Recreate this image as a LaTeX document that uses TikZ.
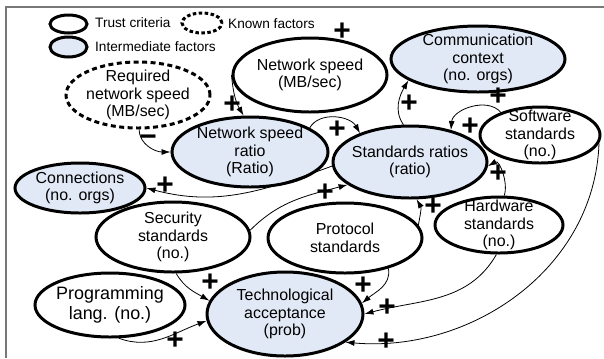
\documentclass[tikz,border=0pt]{standalone}
\usepackage{fontspec}
\setmainfont{Liberation Sans}
\usepackage{tikz}
\usetikzlibrary{arrows.meta,shapes}
\definecolor{interfill}{RGB}{226,233,246}
\definecolor{framegray}{RGB}{120,120,120}
\tikzstyle{factor}=[ellipse, draw, line width=3pt, align=center, inner xsep=-4pt, inner ysep=-30pt, node font=\fontsize{16}{17.5}\selectfont]
\tikzstyle{trust}=[factor, fill=white]
\tikzstyle{known}=[factor, fill=white, dash pattern=on 5pt off 3.5pt]
\tikzstyle{intermediate}=[factor, fill=interfill]
\tikzstyle{edge}=[draw, line width=0.8pt, -{Latex[length=9pt,width=6pt]}]
\tikzstyle{sign}=[inner sep=0pt, node font=\fontsize{30}{30}\selectfont\bfseries]
\tikzstyle{note}=[inner sep=0pt, anchor=west, node font=\fontsize{13.7}{16}\selectfont]

\begin{document}
\begin{tikzpicture}[x=1bp, y=1bp, auto, swap]
\useasboundingbox (0,0) rectangle (604,-358);
\draw[framegray, line width=1.3pt] (6,-358) -- (6,-7) -- (604,-7);

% legend
\node[trust, minimum width=37bp, minimum height=18bp] (lt) at (68.5,-24) {};
\node[known, dash pattern=on 3.5pt off 2.5pt, minimum width=40bp, minimum height=20bp] (lk) at (202,-23) {};
\node[intermediate, minimum width=37bp, minimum height=20bp] (li) at (68.5,-47) {};
\node[note] (ltext) at (95,-23) {Trust criteria};
\node[note] (ktext) at (228,-24) {Known factors};
\node[note] (itext) at (95,-47) {Intermediate factors};

% factors
\foreach \pos/\label/\w/\h/\name in {
	{(310,-75)/ns/154bp/74bp/{Network speed\\(MB/sec)}},
	{(540,-135)/sw/120bp/56bp/{Software\\standards\\(no.)}},
	{(499,-225)/hw/128bp/56bp/{Hardware\\standards\\(no.)}},
	{(173,-237)/sec/154bp/70bp/{Security\\standards\\(no.)}},
	{(345,-238)/proto/154bp/70bp/{Protocol\\standards}}}
\node[trust, minimum width=\w, minimum height=\h] (\label) at \pos {\name};

\node[trust, minimum width=150bp, minimum height=64bp, node font=\fontsize{18}{20}\selectfont] (prog) at (110,-305) {Programming\\lang. (no.)};
\node[known, minimum width=144bp, minimum height=66bp] (rns) at (138,-95) {Required\\network speed\\(MB/sec)};

\foreach \pos/\label/\w/\h/\name in {
	{(478,-59)/comm/174bp/66bp/{Communication\\context\\(no. orgs)}},
	{(250,-152)/nsr/156bp/70bp/{Network speed\\ratio\\(Ratio)}},
	{(410,-162)/sr/154bp/72bp/{Standards ratios\\(ratio)}},
	{(80,-188)/conn/130bp/50bp/{Connections\\(no. orgs)}},
	{(285,-314)/tech/156bp/84bp/{Technological\\acceptance\\(prob)}}}
\node[intermediate, minimum width=\w, minimum height=\h] (\label) at \pos {\name};

% influences
\foreach \source/\dest/\o/\i in {
	rns.-88/nsr.west/-90/180,
	ns.west/nsr.100/-85/120,
	nsr.22/sr.150/60/120,
	sr.183/conn.east/200/-15,
	sr.100/comm.197/125/-120,
	sw.150/sr.38/130/85,
	hw.80/sr.-3/70/30,
	proto.10/sr.-80/80/-60,
	sec.5/sr.200/45/195,
	sec.-85/tech.170/-60/150,
	prog.-75/tech.185/-20/200,
	proto.-35/tech.8/-80/40,
	hw.-95/tech.east/-120/15,
	sw.-8/tech.-25/-92/-5}
\path[edge] (\source) to[out=\o,in=\i] (\dest);

% signs
\node[sign] (m1) at (148,-141) {−};
\foreach \pos/\label in {
	{(342,-32)/p1}, {(232,-105)/p2}, {(337,-130)/p3}, {(409,-104)/p4},
	{(498,-97)/p5}, {(470,-127)/p6}, {(498,-174)/p7}, {(433,-207)/p8},
	{(165,-186)/p9}, {(325,-193)/p10}, {(210,-283)/p11}, {(175,-341)/p12},
	{(363,-286)/p13}, {(387,-308)/p14}, {(386,-342)/p15}}
\node[sign] (\label) at \pos {+};

\end{tikzpicture}
\end{document}
